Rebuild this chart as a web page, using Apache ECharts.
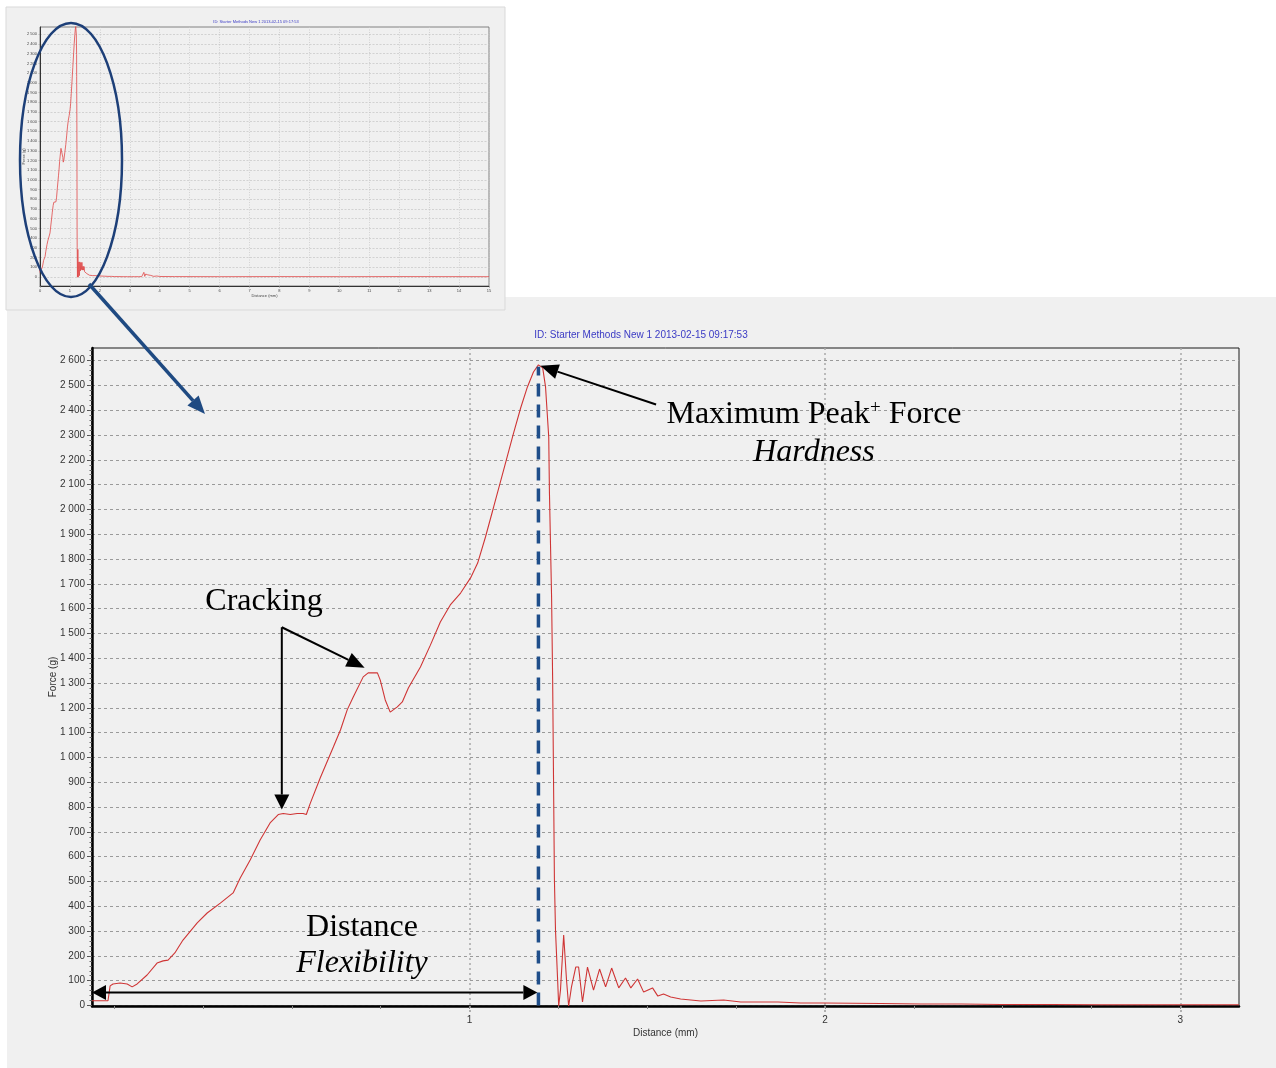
<!DOCTYPE html>
<html><head><meta charset="utf-8">
<script src="https://cdn.jsdelivr.net/npm/echarts@6/dist/echarts.min.js"></script>
<style>html,body{margin:0;padding:0;background:#fff;}#c{width:1276px;height:1068px;}</style>
</head><body><div id="c"></div>
<script>
// ---- data ----
const distance = [-0.062,-0.017,-0.011,-0.003,0.017,0.037,0.051,0.065,0.093,0.121,0.138,0.152,0.171,0.194,0.234,0.262,0.299,0.335,0.355,0.383,0.411,0.439,0.462,0.476,0.496,0.515,0.532,0.541,0.552,0.580,0.617,0.637,0.656,0.673,0.701,0.715,0.741,0.749,0.763,0.777,0.797,0.811,0.828,0.862,0.890,0.918,0.946,0.975,1.003,1.023,1.045,1.068,1.096,1.124,1.144,1.163,1.180,1.194,1.206,1.214,1.223,1.225,1.231,1.234,1.239,1.242,1.248,1.251,1.256,1.265,1.273,1.279,1.287,1.299,1.307,1.318,1.332,1.349,1.366,1.383,1.400,1.420,1.439,1.454,1.473,1.490,1.515,1.530,1.546,1.566,1.594,1.651,1.715,1.763,1.868,1.932,1.997,2.158,2.270,2.383,2.496,2.637,2.777,2.918,3.059,3.165];
const force = [19,19,79,87,91,87,75,87,123,171,180,183,212,264,333,373,413,454,514,587,667,736,770,774,770,774,774,770,815,917,1042,1111,1192,1244,1325,1341,1341,1312,1232,1183,1204,1224,1280,1365,1453,1546,1615,1663,1724,1784,1889,2010,2159,2308,2409,2494,2554,2583,2571,2494,2292,2066,1647,1312,506,304,103,-2,62,284,103,-2,75,155,155,14,155,62,147,75,151,71,111,71,107,54,71,38,46,34,26,18,22,14,14,10,10,8,6,6,4,4,3,3,3,3];
// rest of the full-length test, seen only in the small overview chart
const tailDistance = [3.3,3.4,3.44,3.47,3.5,3.53,3.56,3.6,3.65,3.7,3.8,3.9,4.0,4.5,6,8,10,12,15];
const tailForce = [3,4,12,48,6,30,10,22,8,16,6,10,5,4,3,4,3,4,3];

// ---- tick labels ----
const mainForceTicks = [0,100,200,300,400,500,600,700,800,900,1000,1100,1200,1300,1400,1500,1600,1700,1800,1900,2000,2100,2200,2300,2400,2500,2600];
const mainDistanceTicks = [1,2,3];
const mainDistanceMinorTicks = [0,0.25,0.5,0.75,1,1.25,1.5,1.75,2,2.25,2.5,2.75,3];
const insetForceTicks = [0,100,200,300,400,500,600,700,800,900,1000,1100,1200,1300,1400,1500,1600,1700,1800,1900,2000,2100,2200,2300,2400,2500];
const insetDistanceTicks = [0,1,2,3,4,5,6,7,8,9,10,11,12,13,14,15];
const mainForceMinorTicks = [];
for (let v = 0; v <= 2640; v += 20) mainForceMinorTicks.push(v);

const titleText = 'ID: Starter Methods New 1 2013-02-15 09:17:53';
const SANS = '"Liberation Sans", Arial, sans-serif';
const SERIF = '"Liberation Serif", "Times New Roman", serif';
const fmt = v => { const s = String(Math.round(v)); return s.length > 3 ? s.slice(0, s.length - 3) + ' ' + s.slice(-3) : s; };

const mainData = distance.map((d, i) => [d, force[i]]);
const insetData = mainData.concat(tailDistance.map((d, i) => [d, tailForce[i]]));

const chart = echarts.init(document.getElementById('c'), null, {renderer: 'canvas'});

const option = {
  animation: false,
  backgroundColor: '#ffffff',
  grid: [
    {left: 92, top: 348, width: 1147, height: 658, show: true, borderColor: '#1a1a1a', borderWidth: 1, backgroundColor: 'transparent', outerBoundsMode: 'none'},
    {left: 40, top: 27, width: 449, height: 259, show: true, borderColor: '#666', borderWidth: 0.8, backgroundColor: 'transparent', outerBoundsMode: 'none'},
    {left: 92, top: 348, width: 1147, height: 658, show: false, outerBoundsMode: 'none'}
  ],
  xAxis: [
    {gridIndex: 0, type: 'value', min: -0.062, max: 3.165,
      name: 'Distance (mm)', nameLocation: 'middle', nameGap: 22, nameMoveOverlap: false,
      nameTextStyle: {fontSize: 10, color: '#333', fontFamily: SANS},
      axisLine: {show: true, onZero: false, lineStyle: {color: '#000', width: 2.5}},
      axisTick: {show: true, customValues: mainDistanceTicks, length: 7, lineStyle: {color: '#9a9a9a', width: 1.5, type: [2, 2]}},
      axisLabel: {customValues: mainDistanceTicks, fontSize: 10, color: '#333', margin: 9, fontFamily: SANS},
      splitLine: {show: true, lineStyle: {color: '#a8a8a8', width: 1.5, type: [2, 3]}}
    },
    {gridIndex: 1, type: 'value', min: 0, max: 15,
      name: 'Distance (mm)', nameLocation: 'middle', nameGap: 8, nameMoveOverlap: false,
      nameTextStyle: {fontSize: 4, color: '#444', fontFamily: SANS},
      axisLine: {show: true, onZero: false, lineStyle: {color: '#333', width: 1}},
      axisTick: {show: true, customValues: insetDistanceTicks, length: 2, lineStyle: {color: '#999', width: 0.6}},
      axisLabel: {customValues: insetDistanceTicks, fontSize: 4, color: '#444', margin: 3, fontFamily: SANS},
      splitLine: {show: true, lineStyle: {color: '#c4c4c4', width: 0.7, type: [1, 1.5]}}
    },
    {gridIndex: 2, type: 'value', min: -0.062, max: 3.165,
      axisLine: {show: false, onZero: false},
      axisTick: {show: true, customValues: mainDistanceMinorTicks, length: 3, lineStyle: {color: '#888', width: 1}},
      axisLabel: {show: false}, splitLine: {show: false}
    }
  ],
  yAxis: [
    {gridIndex: 0, type: 'value', min: -2, max: 2651,
      name: 'Force (g)', nameLocation: 'middle', nameGap: 34, nameMoveOverlap: false,
      nameTextStyle: {fontSize: 10, color: '#333', fontFamily: SANS},
      axisLine: {show: true, onZero: false, lineStyle: {color: '#000', width: 2.5}},
      axisTick: {show: true, customValues: mainForceTicks, length: 5, lineStyle: {color: '#555', width: 1}},
      axisLabel: {customValues: mainForceTicks, formatter: fmt, fontSize: 10, color: '#333', margin: 7, fontFamily: SANS},
      splitLine: {show: true, lineStyle: {color: '#9a9a9a', width: 1, type: [3, 3]}}
    },
    {gridIndex: 1, type: 'value', min: -93, max: 2575,
      name: 'Force (g)', nameLocation: 'middle', nameGap: 14, nameMoveOverlap: false,
      nameTextStyle: {fontSize: 4, color: '#444', fontFamily: SANS},
      axisLine: {show: true, onZero: false, lineStyle: {color: '#333', width: 1}},
      axisTick: {show: true, customValues: insetForceTicks, length: 1.5, lineStyle: {color: '#999', width: 0.6}},
      axisLabel: {customValues: insetForceTicks, formatter: fmt, fontSize: 4, color: '#444', margin: 3, fontFamily: SANS},
      splitLine: {show: true, lineStyle: {color: '#c4c4c4', width: 0.7, type: [2, 1.5]}}
    },
    {gridIndex: 2, type: 'value', min: -2, max: 2651,
      axisLine: {show: false, onZero: false},
      axisTick: {show: true, customValues: mainForceMinorTicks, length: 2.5, lineStyle: {color: '#666', width: 1}},
      axisLabel: {show: false}, splitLine: {show: false}
    }
  ],
  series: [
    {type: 'line', xAxisIndex: 0, yAxisIndex: 0, data: mainData, symbol: 'none', silent: true, clip: true,
      lineStyle: {color: '#cf3535', width: 1.1}, z: 3},
    {type: 'line', xAxisIndex: 1, yAxisIndex: 1, data: insetData, symbol: 'none', silent: true, clip: true,
      lineStyle: {color: '#e04848', width: 0.8}, z: 3}
  ]
};
chart.setOption(option);

// ---- annotations (anchored in data coordinates of the main chart) ----
const anno = {
  peakArrowTail: [1.525, 2423],
  crackElbow: [0.472, 1525],
  crackLowTip: [0.472, 790],
  crackHighTip: [0.705, 1362],
  flexArrowForce: 52
};
const P = pt => chart.convertToPixel({gridIndex: 0}, pt);
let pk = 0;
force.forEach((f, i) => { if (f > force[pk]) pk = i; });
const peak = [distance[pk], force[pk]];

function head(from, to, len, wid, color) {
  const dx = to[0] - from[0], dy = to[1] - from[1];
  const L = Math.hypot(dx, dy), ux = dx / L, uy = dy / L;
  const b = [to[0] - ux * len, to[1] - uy * len];
  return {
    base: b,
    el: {type: 'polygon', z: 120, silent: true,
      shape: {points: [to, [b[0] - uy * wid / 2, b[1] + ux * wid / 2], [b[0] + uy * wid / 2, b[1] - ux * wid / 2]]},
      style: {fill: color}}
  };
}
function arrow(from, to, o) {
  const h = head(from, to, o.len, o.wid, o.color);
  let start = from, els = [h.el];
  if (o.both) { const h2 = head(to, from, o.len, o.wid, o.color); start = h2.base; els.push(h2.el); }
  els.push({type: 'line', z: 119, silent: true,
    shape: {x1: start[0], y1: start[1], x2: h.base[0], y2: h.base[1]},
    style: {stroke: o.color, lineWidth: o.lw, lineCap: 'butt'}});
  return els;
}

const pkPix = P(peak);
const basePix = P([peak[0], 0]);
const graphics = [
  {type: 'rect', z: -100, silent: true, shape: {x: 7, y: 297, width: 1269, height: 771}, style: {fill: '#f0f0f0'}},
  {type: 'rect', z: -90, silent: true, shape: {x: 6, y: 7, width: 499, height: 303}, style: {fill: '#f0f0f0', stroke: '#d9d9d9', lineWidth: 1}},
  // titles
  {type: 'text', z: 50, silent: true, x: 641, y: 335, style: {text: titleText, font: '10px ' + SANS, fill: '#3a3ac4', align: 'center', verticalAlign: 'middle'}},
  {type: 'text', z: 50, silent: true, x: 256, y: 22, style: {text: titleText, font: '4px ' + SANS, fill: '#3a3ac4', align: 'center', verticalAlign: 'middle'}},
  // blue dashed line at the peak
  {type: 'line', z: 110, silent: true, shape: {x1: basePix[0], y1: basePix[1], x2: pkPix[0], y2: pkPix[1] + 2},
    style: {stroke: '#1f4e8a', lineWidth: 3.5, lineDash: [13, 8]}},
  // ellipse on the overview and zoom arrow
  {type: 'ellipse', z: 110, silent: true, shape: {cx: 71, cy: 160, rx: 51, ry: 137}, style: {fill: 'none', stroke: '#1d3f78', lineWidth: 2.5}},
  ...arrow([89, 284], [205, 414], {len: 18, wid: 15, color: '#1f4a82', lw: 3.5}),
  // annotation arrows
  ...arrow(P(anno.peakArrowTail), [pkPix[0] + 2, pkPix[1] + 1], {len: 18, wid: 15, color: '#000', lw: 2}),
  ...arrow(P(anno.crackElbow), P(anno.crackLowTip), {len: 15, wid: 15, color: '#000', lw: 2}),
  ...arrow(P(anno.crackElbow), P(anno.crackHighTip), {len: 18, wid: 15, color: '#000', lw: 2}),
  ...arrow(P([-0.062, anno.flexArrowForce]), P([peak[0] - 0.003, anno.flexArrowForce]), {len: 14, wid: 15, color: '#000', lw: 2, both: true}),
  // annotation texts
  {type: 'text', z: 130, silent: true, x: 264, y: 602, style: {text: 'Cracking', font: '32px ' + SERIF, fill: '#000', align: 'center', verticalAlign: 'middle'}},
  {type: 'text', z: 130, silent: true, x: 814, y: 415, style: {
    text: '{n|Maximum Peak}{s|+}{n| Force}', align: 'center', verticalAlign: 'middle',
    rich: {n: {fontSize: 32, fontFamily: SERIF, fill: '#000'}, s: {fontSize: 19, fontFamily: SERIF, fill: '#000', verticalAlign: 'top'}}}},
  {type: 'text', z: 130, silent: true, x: 814, y: 453, style: {text: 'Hardness', font: 'italic 32px ' + SERIF, fill: '#000', align: 'center', verticalAlign: 'middle'}},
  {type: 'text', z: 130, silent: true, x: 362, y: 928, style: {text: 'Distance', font: '32px ' + SERIF, fill: '#000', align: 'center', verticalAlign: 'middle'}},
  {type: 'text', z: 130, silent: true, x: 362, y: 964, style: {text: 'Flexibility', font: 'italic 32px ' + SERIF, fill: '#000', align: 'center', verticalAlign: 'middle'}}
];
chart.setOption({graphic: graphics});
</script></body></html>
